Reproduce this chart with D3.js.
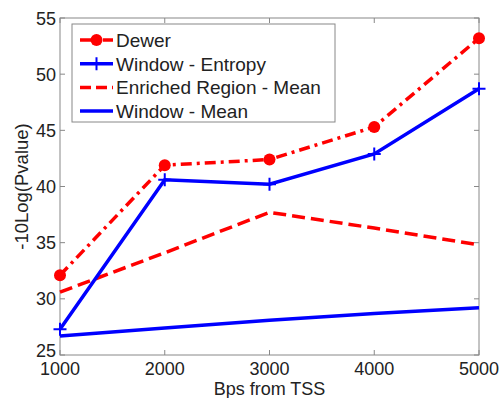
<!DOCTYPE html>
<html>
<head>
<meta charset="utf-8">
<script src="https://cdn.jsdelivr.net/npm/d3@7"></script>
<style>
  body { margin: 0; background: #fff; }
  svg text { font-family: "Liberation Sans", Arial, sans-serif; fill: #222; }
</style>
</head>
<body>
<svg id="chart" width="502" height="398"></svg>
<script>
const bps = [1000, 2000, 3000, 4000, 5000];
const dewer = [32.1, 41.9, 42.4, 45.3, 53.2];
const windowEntropy = [27.3, 40.6, 40.2, 42.9, 48.7];
const enrichedMean = [30.6, 34.1, 37.7, 36.3, 34.8];
const windowMean = [26.7, 27.4, 28.1, 28.7, 29.2];
const yTicks = [25, 30, 35, 40, 45, 50, 55];

const series = [
  { name: 'Dewer', values: dewer, color: '#ff0000', dash: '11,5,3,5', marker: 'circle' },
  { name: 'Window - Entropy', values: windowEntropy, color: '#0000ff', dash: null, marker: 'plus' },
  { name: 'Enriched Region - Mean', values: enrichedMean, color: '#ff0000', dash: '13,6', marker: null },
  { name: 'Window - Mean', values: windowMean, color: '#0000ff', dash: null, marker: null }
];

const svg = d3.select('#chart');
const mLeft = 60, mRight = 479, mTop = 18, mBottom = 355;

const x = d3.scaleLinear().domain([1000, 5000]).range([mLeft, mRight]);
const y = d3.scaleLinear().domain([25, 55]).range([mBottom, mTop]);

// axes box
svg.append('rect')
  .attr('x', mLeft).attr('y', mTop)
  .attr('width', mRight - mLeft).attr('height', mBottom - mTop)
  .attr('fill', 'none').attr('stroke', '#888').attr('stroke-width', 1);

// ticks inward on all sides
const tk = 5;
bps.forEach(v => {
  svg.append('line').attr('x1', x(v)).attr('x2', x(v)).attr('y1', mBottom).attr('y2', mBottom - tk).attr('stroke', '#888');
  svg.append('line').attr('x1', x(v)).attr('x2', x(v)).attr('y1', mTop).attr('y2', mTop + tk).attr('stroke', '#888');
  svg.append('text').attr('x', x(v)).attr('y', mBottom + 20)
    .attr('text-anchor', 'middle').attr('font-size', 18).text(v);
});
yTicks.forEach(v => {
  svg.append('line').attr('x1', mLeft).attr('x2', mLeft + tk).attr('y1', y(v)).attr('y2', y(v)).attr('stroke', '#888');
  svg.append('line').attr('x1', mRight).attr('x2', mRight - tk).attr('y1', y(v)).attr('y2', y(v)).attr('stroke', '#888');
  svg.append('text').attr('x', mLeft - 4).attr('y', y(v) + (v === 25 ? 2 : 6.5))
    .attr('text-anchor', 'end').attr('font-size', 18).text(v);
});

svg.append('text').attr('x', x(3000)).attr('y', 395)
  .attr('text-anchor', 'middle').attr('font-size', 18).text('Bps from TSS');
svg.append('text')
  .attr('transform', `translate(28,${(mTop + mBottom) / 2}) rotate(-90)`)
  .attr('text-anchor', 'middle').attr('font-size', 18.5).text('-10Log(Pvalue)');

const line = d3.line().x((d, i) => x(bps[i])).y(d => y(d));

function drawMarker(g, kind, cx, cy, color) {
  if (kind === 'circle') {
    g.append('circle').attr('cx', cx).attr('cy', cy).attr('r', 6).attr('fill', color);
  } else if (kind === 'plus') {
    g.append('path').attr('d', `M${cx - 6.5},${cy}H${cx + 6.5}M${cx},${cy - 6.5}V${cy + 6.5}`)
      .attr('stroke', color).attr('stroke-width', 2);
  }
}

// draw in reverse so Dewer is on top
series.slice().reverse().forEach(s => {
  const g = svg.append('g');
  g.append('path').datum(s.values)
    .attr('d', line)
    .attr('fill', 'none').attr('stroke', s.color).attr('stroke-width', 3.5)
    .attr('stroke-dasharray', s.dash);
  if (s.marker) s.values.forEach((v, i) => drawMarker(g, s.marker, x(bps[i]), y(v), s.color));
});

// legend
const lg = svg.append('g');
lg.append('rect').attr('x', 72).attr('y', 24).attr('width', 263).attr('height', 98)
  .attr('fill', '#fff').attr('stroke', '#888');
series.forEach((s, i) => {
  const ly = 40 + i * 23.7;
  lg.append('line').attr('x1', 80).attr('x2', 113).attr('y1', ly).attr('y2', ly)
    .attr('stroke', s.color).attr('stroke-width', 3.5).attr('stroke-dasharray', s.dash === '13,6' ? '11,5' : (s.dash ? '12,4,3,4' : null));
  drawMarker(lg, s.marker, 96.5, ly, s.color);
  lg.append('text').attr('x', 116).attr('y', ly + 7).attr('font-size', 19).text(s.name);
});
</script>
</body>
</html>
